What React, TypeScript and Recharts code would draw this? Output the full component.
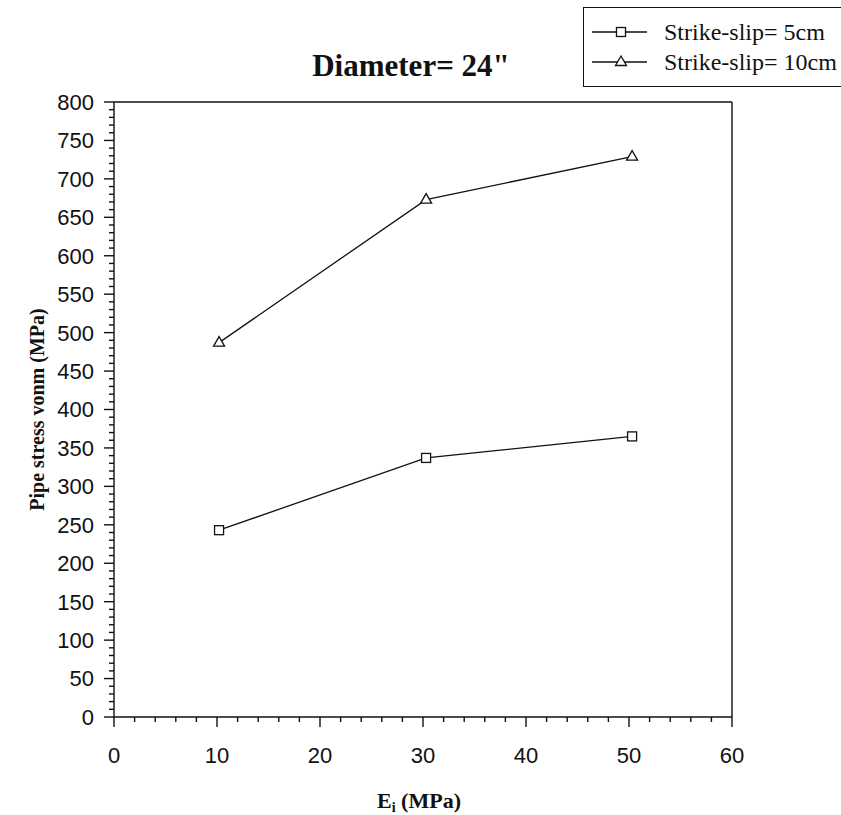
import { LineChart, Line, XAxis, YAxis, ReferenceLine, Label } from 'recharts'

// E_i (MPa) positions of the three runs
const eValues = [10.2, 30.3, 50.3]
// Pipe stress vonm (MPa)
const slip5cm = [243, 337, 365]
const slip10cm = [487, 673, 729]

const xMajorTicks = [0, 10, 20, 30, 40, 50, 60]
const yMajorTicks = [0, 50, 100, 150, 200, 250, 300, 350, 400, 450, 500, 550, 600, 650, 700, 750, 800]

const seriesNames = ['Strike-slip= 5cm', 'Strike-slip= 10cm']

const data = eValues.map((e, i) => ({ e, s5: slip5cm[i], s10: slip10cm[i] }))

// minor ticks: every 2 on x, every 10 on y
const xTicks = Array.from({ length: 31 }, (_, i) => i * 2)
const yTicks = Array.from({ length: 81 }, (_, i) => i * 10)

const INK = '#111'
const tickFont = { fontFamily: '"Liberation Sans", Arial, sans-serif', fontSize: 22 }
const serifBold = { fontFamily: '"Liberation Serif", "Times New Roman", serif', fontWeight: 700 }

const XTick = (props: any) => {
  const { x, y, payload } = props
  const major = xMajorTicks.includes(payload.value)
  return (
    <g>
      <line x1={x} x2={x} y1={y} y2={y + (major ? 10 : 5)} stroke={INK} strokeWidth={1.4} />
      {major && (
        <text x={x} y={y + 38} dy="0.36em" textAnchor="middle" fill={INK} {...tickFont}>
          {payload.value}
        </text>
      )}
    </g>
  )
}

const YTick = (props: any) => {
  const { x, y, payload } = props
  const major = yMajorTicks.includes(payload.value)
  return (
    <g>
      <line x1={x} x2={x - (major ? 10 : 5)} y1={y} y2={y} stroke={INK} strokeWidth={1.4} />
      {major && (
        <text x={x - 20} y={y} dy="0.36em" textAnchor="end" fill={INK} {...tickFont}>
          {payload.value}
        </text>
      )}
    </g>
  )
}

const SquareDot = (props: any) => {
  const { cx, cy } = props
  if (cx == null || cy == null) return null
  return <rect x={cx - 4.5} y={cy - 4.5} width={9} height={9} fill="#fff" stroke={INK} strokeWidth={1.3} />
}

const TriangleDot = (props: any) => {
  const { cx, cy } = props
  if (cx == null || cy == null) return null
  return (
    <polygon
      points={`${cx},${cy - 6} ${cx - 5.5},${cy + 3.5} ${cx + 5.5},${cy + 3.5}`}
      fill="#fff"
      stroke={INK}
      strokeWidth={1.3}
    />
  )
}

const LegendRow = ({ kind, name }: { kind: 'square' | 'triangle'; name: string }) => (
  <div style={{ display: 'flex', alignItems: 'center', height: 30 }}>
    <svg width={70} height={20} style={{ marginRight: 10 }}>
      <line x1={8} x2={63} y1={10} y2={10} stroke={INK} strokeWidth={1.3} />
      {kind === 'square' ? <SquareDot cx={37} cy={10} /> : <TriangleDot cx={37} cy={10} />}
    </svg>
    <span>{name}</span>
  </div>
)

export default function App() {
  return (
    <div style={{ position: 'absolute', left: 0, top: 0, width: 841, height: 815, overflow: 'hidden', background: '#fff' }}>
      <LineChart
        width={841}
        height={815}
        data={data}
        margin={{ top: 102, right: 109, left: 54, bottom: 58 }}
      >
        <XAxis
          dataKey="e"
          type="number"
          domain={[0, 60]}
          ticks={xTicks}
          interval={0}
          height={40}
          tickSize={0}
          tickMargin={0}
          tickLine={false}
          tick={<XTick />}
          axisLine={{ stroke: INK, strokeWidth: 1.4 }}
        >
          <Label
            content={(p: any) => {
              const vb = p.viewBox
              const cx = vb.x + vb.width / 2 - 4
              return (
                <text x={cx} y={808} textAnchor="middle" fill={INK} fontSize={22} {...serifBold}>
                  E<tspan fontSize={14} dy={4}>i</tspan>
                  <tspan dy={-4}> (MPa)</tspan>
                </text>
              )
            }}
          />
        </XAxis>
        <YAxis
          type="number"
          domain={[0, 800]}
          ticks={yTicks}
          interval={0}
          width={60}
          tickSize={0}
          tickMargin={0}
          tickLine={false}
          tick={<YTick />}
          axisLine={{ stroke: INK, strokeWidth: 1.4 }}
        >
          <Label
            content={(p: any) => {
              const vb = p.viewBox
              const cy = vb.y + vb.height / 2
              return (
                <text
                  x={44}
                  y={cy}
                  transform={`rotate(-90, 44, ${cy})`}
                  textAnchor="middle"
                  fill={INK}
                  fontSize={20}
                  {...serifBold}
                >
                  Pipe stress vonm (MPa)
                </text>
              )
            }}
          />
        </YAxis>
        <ReferenceLine y={800} stroke={INK} strokeWidth={1.4}>
          <Label
            content={(p: any) => {
              const vb = p.viewBox
              const cx = vb.x + vb.width / 2 - 12
              return (
                <text x={cx} y={76} textAnchor="middle" fill={INK} fontSize={31} {...serifBold}>
                  Diameter= 24"
                </text>
              )
            }}
          />
        </ReferenceLine>
        <ReferenceLine x={60} stroke={INK} strokeWidth={1.4} />
        <Line
          dataKey="s5"
          name={seriesNames[0]}
          stroke={INK}
          strokeWidth={1.3}
          dot={<SquareDot />}
          activeDot={false}
          isAnimationActive={false}
        />
        <Line
          dataKey="s10"
          name={seriesNames[1]}
          stroke={INK}
          strokeWidth={1.3}
          dot={<TriangleDot />}
          activeDot={false}
          isAnimationActive={false}
        />
      </LineChart>
      <div
        style={{
          position: 'absolute',
          left: 583,
          top: 7,
          width: 270,
          height: 80,
          boxSizing: 'border-box',
          border: `1.5px solid ${INK}`,
          padding: '9px 0 0 0',
          fontFamily: '"Liberation Serif", "Times New Roman", serif',
          fontSize: 24,
          color: INK,
        }}
      >
        <LegendRow kind="square" name={seriesNames[0]} />
        <LegendRow kind="triangle" name={seriesNames[1]} />
      </div>
    </div>
  )
}
